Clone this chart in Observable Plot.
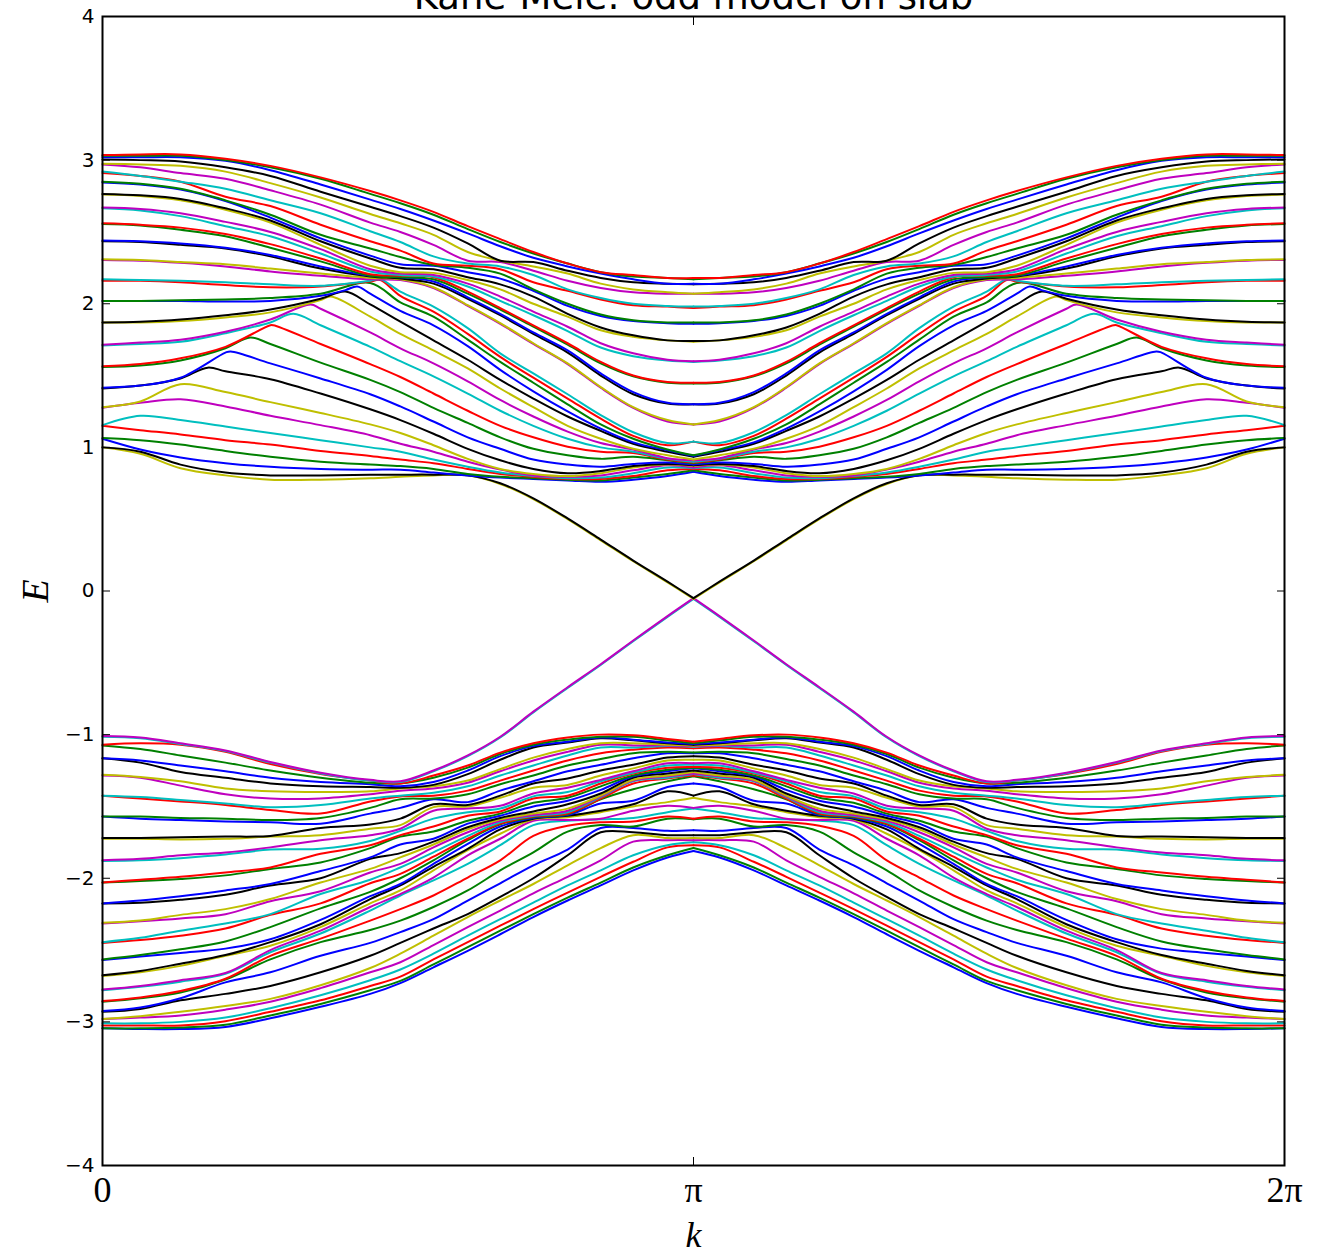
<!DOCTYPE html>
<html>
<head>
<meta charset="utf-8">
<style>html,body{margin:0;padding:0;background:#fff;overflow:hidden}svg{display:block}</style>
<script src="https://cdn.jsdelivr.net/npm/d3@7"></script>
<script src="https://cdn.jsdelivr.net/npm/@observablehq/plot@0.6"></script>
</head>
<body>
<div id="chart"></div>
<script>
const titleText = "Kane-Mele: odd model on slab";
const cycleColors = ["#0000ff","#008000","#ff0000","#00bfbf","#bf00bf","#bfbf00","#000000"];
const yTicks = [-4,-3,-2,-1,0,1,2,3,4];
const xTicks = [0, Math.PI, 2*Math.PI];
const xTickLabels = ["0","π","2π"];
// sampled k, in units of π, from 0 to π (the spectrum is mirrored about π)
const kOverPi = [0,.064,.132,.208,.284,.369,.453,.504,.56,.618,.673,.729,.787,.843,.898,.956,1];
// bands 0..39, ascending in energy
const lowerBands = [
[-3.045,-3.05,-3.05,-3.035,-2.975,-2.895,-2.805,-2.73,-2.62,-2.505,-2.39,-2.27,-2.155,-2.05,-1.945,-1.855,-1.81],
[-3.045,-3.045,-3.04,-3.02,-2.955,-2.875,-2.78,-2.715,-2.60,-2.48,-2.365,-2.25,-2.135,-2.03,-1.925,-1.84,-1.79],
[-3.025,-3.025,-3.025,-2.995,-2.93,-2.85,-2.75,-2.685,-2.565,-2.445,-2.33,-2.215,-2.10,-1.99,-1.885,-1.785,-1.77],
[-3.01,-3.01,-3.0,-2.97,-2.905,-2.815,-2.71,-2.635,-2.525,-2.40,-2.285,-2.17,-2.05,-1.945,-1.84,-1.77,-1.75],
[-2.98,-2.97,-2.955,-2.915,-2.86,-2.765,-2.655,-2.585,-2.465,-2.34,-2.225,-2.105,-1.99,-1.875,-1.745,-1.735,-1.735],
[-2.98,-2.96,-2.93,-2.89,-2.84,-2.745,-2.625,-2.525,-2.40,-2.27,-2.155,-2.04,-1.91,-1.79,-1.70,-1.72,-1.72],
[-2.93,-2.91,-2.85,-2.805,-2.75,-2.655,-2.54,-2.45,-2.35,-2.25,-2.13,-2.0,-1.84,-1.68,-1.68,-1.70,-1.70],
[-2.925,-2.90,-2.835,-2.725,-2.655,-2.54,-2.45,-2.375,-2.285,-2.155,-2.035,-1.91,-1.80,-1.65,-1.65,-1.67,-1.665],
[-2.86,-2.835,-2.795,-2.705,-2.565,-2.445,-2.36,-2.295,-2.20,-2.085,-1.945,-1.82,-1.675,-1.63,-1.64,-1.585,-1.59],
[-2.855,-2.83,-2.785,-2.70,-2.54,-2.42,-2.295,-2.215,-2.12,-1.995,-1.875,-1.705,-1.635,-1.61,-1.605,-1.57,-1.585],
[-2.78,-2.755,-2.72,-2.665,-2.515,-2.385,-2.225,-2.12,-2.015,-1.90,-1.77,-1.63,-1.60,-1.59,-1.58,-1.54,-1.515],
[-2.775,-2.75,-2.71,-2.66,-2.50,-2.365,-2.20,-2.11,-1.995,-1.84,-1.725,-1.60,-1.595,-1.585,-1.53,-1.495,-1.51],
[-2.68,-2.655,-2.61,-2.54,-2.47,-2.34,-2.175,-2.085,-1.945,-1.805,-1.69,-1.59,-1.575,-1.54,-1.50,-1.47,-1.44],
[-2.675,-2.645,-2.595,-2.535,-2.445,-2.32,-2.145,-2.05,-1.92,-1.795,-1.66,-1.585,-1.565,-1.53,-1.485,-1.395,-1.425],
[-2.57,-2.545,-2.52,-2.49,-2.425,-2.29,-2.125,-2.04,-1.90,-1.76,-1.64,-1.58,-1.56,-1.48,-1.46,-1.365,-1.34],
[-2.565,-2.535,-2.495,-2.44,-2.34,-2.21,-2.095,-2.0,-1.875,-1.735,-1.625,-1.575,-1.555,-1.45,-1.38,-1.325,-1.29],
[-2.45,-2.43,-2.40,-2.35,-2.255,-2.175,-2.035,-1.97,-1.85,-1.725,-1.62,-1.57,-1.55,-1.445,-1.34,-1.305,-1.285],
[-2.445,-2.415,-2.365,-2.315,-2.25,-2.11,-2.01,-1.925,-1.82,-1.705,-1.61,-1.565,-1.54,-1.435,-1.325,-1.30,-1.275],
[-2.315,-2.30,-2.28,-2.25,-2.16,-2.09,-1.96,-1.90,-1.785,-1.68,-1.60,-1.56,-1.53,-1.43,-1.32,-1.29,-1.27],
[-2.31,-2.295,-2.255,-2.215,-2.145,-2.03,-1.935,-1.855,-1.765,-1.66,-1.59,-1.55,-1.515,-1.425,-1.315,-1.285,-1.26],
[-2.175,-2.17,-2.15,-2.115,-2.05,-2.0,-1.865,-1.825,-1.745,-1.645,-1.58,-1.535,-1.485,-1.41,-1.30,-1.27,-1.25],
[-2.175,-2.155,-2.125,-2.085,-2.04,-1.95,-1.855,-1.765,-1.725,-1.62,-1.565,-1.50,-1.46,-1.385,-1.29,-1.255,-1.235],
[-2.03,-2.02,-2.005,-1.98,-1.935,-1.89,-1.79,-1.71,-1.675,-1.60,-1.55,-1.475,-1.44,-1.36,-1.285,-1.245,-1.23],
[-2.03,-2.01,-1.99,-1.96,-1.925,-1.83,-1.77,-1.70,-1.64,-1.565,-1.535,-1.445,-1.425,-1.34,-1.27,-1.23,-1.225],
[-1.88,-1.875,-1.86,-1.835,-1.80,-1.795,-1.74,-1.67,-1.585,-1.54,-1.515,-1.43,-1.40,-1.325,-1.265,-1.215,-1.21],
[-1.875,-1.865,-1.84,-1.82,-1.785,-1.735,-1.70,-1.655,-1.53,-1.515,-1.495,-1.41,-1.37,-1.315,-1.255,-1.20,-1.20],
[-1.725,-1.725,-1.73,-1.725,-1.71,-1.70,-1.655,-1.63,-1.505,-1.50,-1.44,-1.37,-1.35,-1.285,-1.235,-1.18,-1.175],
[-1.72,-1.72,-1.715,-1.71,-1.705,-1.65,-1.625,-1.585,-1.485,-1.49,-1.425,-1.34,-1.305,-1.25,-1.21,-1.16,-1.15],
[-1.57,-1.585,-1.595,-1.605,-1.61,-1.62,-1.55,-1.51,-1.45,-1.47,-1.39,-1.325,-1.255,-1.21,-1.165,-1.13,-1.13],
[-1.57,-1.57,-1.58,-1.585,-1.595,-1.58,-1.51,-1.45,-1.445,-1.415,-1.345,-1.285,-1.215,-1.17,-1.13,-1.12,-1.125],
[-1.425,-1.445,-1.465,-1.49,-1.525,-1.55,-1.465,-1.43,-1.425,-1.39,-1.32,-1.25,-1.18,-1.13,-1.105,-1.09,-1.095],
[-1.425,-1.435,-1.455,-1.48,-1.505,-1.49,-1.445,-1.425,-1.405,-1.36,-1.285,-1.215,-1.145,-1.09,-1.09,-1.08,-1.085],
[-1.285,-1.30,-1.355,-1.415,-1.445,-1.445,-1.415,-1.39,-1.375,-1.335,-1.255,-1.18,-1.12,-1.07,-1.075,-1.075,-1.08],
[-1.28,-1.295,-1.325,-1.375,-1.395,-1.40,-1.395,-1.375,-1.36,-1.32,-1.24,-1.16,-1.10,-1.06,-1.06,-1.07,-1.075],
[-1.165,-1.195,-1.26,-1.30,-1.34,-1.36,-1.365,-1.37,-1.35,-1.275,-1.175,-1.09,-1.055,-1.025,-1.04,-1.06,-1.07],
[-1.165,-1.18,-1.215,-1.255,-1.30,-1.33,-1.345,-1.36,-1.33,-1.25,-1.15,-1.08,-1.05,-1.02,-1.035,-1.055,-1.065],
[-1.075,-1.10,-1.145,-1.195,-1.25,-1.30,-1.335,-1.34,-1.30,-1.23,-1.135,-1.07,-1.035,-1.015,-1.015,-1.04,-1.06],
[-1.07,-1.06,-1.07,-1.12,-1.205,-1.275,-1.32,-1.34,-1.285,-1.215,-1.125,-1.06,-1.02,-1.0,-1.005,-1.03,-1.05],
[-1.015,-1.025,-1.065,-1.115,-1.195,-1.27,-1.32,-1.33,-1.255,-1.15,-1.02,-.845,-.675,-.515,-.35,-.18,-.055],
[-1.01,-1.02,-1.06,-1.11,-1.19,-1.265,-1.315,-1.325,-1.25,-1.145,-1.015,-.84,-.67,-.51,-.345,-.175,-.05]
];
// bands 40..79, ascending in energy
const upperBands = [
[1.0,.955,.855,.805,.775,.775,.785,.795,.805,.805,.745,.64,.50,.353,.207,.06,-.055],
[1.0,.97,.88,.825,.805,.805,.81,.81,.81,.805,.75,.645,.505,.358,.212,.065,-.05],
[1.06,.985,.93,.89,.865,.85,.845,.845,.825,.805,.79,.78,.77,.76,.775,.80,.83],
[1.065,1.05,1.02,.975,.935,.90,.88,.87,.85,.815,.795,.785,.775,.77,.79,.815,.84],
[1.15,1.12,1.09,1.05,1.02,.975,.94,.915,.89,.85,.815,.795,.78,.78,.80,.84,.85],
[1.155,1.22,1.19,1.145,1.10,1.05,1.0,.97,.915,.865,.825,.80,.785,.79,.82,.86,.855],
[1.275,1.31,1.335,1.285,1.22,1.155,1.085,1.025,.97,.90,.845,.805,.795,.805,.84,.875,.86],
[1.28,1.32,1.44,1.385,1.315,1.24,1.16,1.10,1.015,.92,.85,.815,.80,.82,.86,.88,.87],
[1.41,1.43,1.48,1.53,1.475,1.375,1.265,1.19,1.095,.99,.91,.85,.82,.835,.87,.885,.875],
[1.415,1.43,1.485,1.66,1.585,1.48,1.37,1.285,1.18,1.07,.99,.915,.88,.865,.885,.895,.88],
[1.56,1.57,1.605,1.69,1.72,1.59,1.47,1.385,1.275,1.17,1.07,.99,.945,.92,.935,.91,.89],
[1.565,1.58,1.62,1.70,1.85,1.72,1.58,1.49,1.375,1.255,1.15,1.07,1.005,.97,.96,.915,.895],
[1.71,1.72,1.735,1.795,1.87,1.85,1.70,1.60,1.495,1.375,1.255,1.15,1.06,1.0,.97,.92,.90],
[1.715,1.73,1.75,1.805,1.89,1.965,1.80,1.69,1.585,1.46,1.33,1.215,1.11,1.03,.985,.925,.91],
[1.87,1.87,1.88,1.905,1.94,2.025,1.91,1.79,1.675,1.55,1.41,1.28,1.15,1.06,.99,.945,.915],
[1.87,1.875,1.89,1.92,1.96,2.035,1.995,1.875,1.745,1.61,1.47,1.34,1.215,1.115,1.025,.97,.935],
[2.02,2.02,2.02,2.015,2.02,2.055,2.07,1.95,1.85,1.705,1.54,1.39,1.25,1.13,1.035,.98,.94],
[2.02,2.02,2.025,2.03,2.04,2.07,2.145,2.01,1.91,1.75,1.595,1.45,1.30,1.16,1.06,.985,.945],
[2.16,2.16,2.15,2.13,2.115,2.12,2.155,2.055,1.945,1.79,1.63,1.485,1.34,1.20,1.08,1.015,1.04],
[2.17,2.165,2.16,2.15,2.135,2.125,2.16,2.085,1.98,1.83,1.655,1.515,1.37,1.225,1.105,1.03,1.04],
[2.305,2.30,2.285,2.26,2.225,2.195,2.17,2.165,2.11,1.985,1.86,1.72,1.58,1.415,1.275,1.18,1.16],
[2.31,2.305,2.29,2.275,2.245,2.21,2.18,2.17,2.115,1.99,1.865,1.725,1.585,1.42,1.28,1.19,1.16],
[2.435,2.43,2.41,2.385,2.33,2.245,2.19,2.175,2.14,2.035,1.92,1.79,1.66,1.50,1.37,1.305,1.30],
[2.44,2.435,2.42,2.39,2.34,2.26,2.195,2.185,2.155,2.045,1.93,1.80,1.675,1.515,1.385,1.31,1.30],
[2.555,2.545,2.515,2.47,2.39,2.295,2.195,2.185,2.17,2.07,1.96,1.84,1.715,1.585,1.495,1.45,1.445],
[2.56,2.55,2.53,2.485,2.415,2.315,2.205,2.195,2.185,2.085,1.97,1.85,1.725,1.595,1.50,1.455,1.45],
[2.665,2.65,2.61,2.54,2.47,2.35,2.225,2.20,2.19,2.12,2.02,1.92,1.81,1.695,1.635,1.605,1.595],
[2.67,2.66,2.63,2.57,2.50,2.38,2.24,2.21,2.20,2.14,2.05,1.945,1.84,1.725,1.655,1.61,1.60],
[2.76,2.75,2.72,2.655,2.565,2.41,2.265,2.22,2.215,2.165,2.10,2.0,1.91,1.815,1.77,1.745,1.735],
[2.765,2.755,2.73,2.665,2.58,2.435,2.315,2.25,2.24,2.185,2.135,2.05,1.93,1.835,1.78,1.745,1.74],
[2.845,2.83,2.795,2.715,2.60,2.455,2.335,2.275,2.265,2.22,2.175,2.09,1.985,1.915,1.88,1.865,1.86],
[2.85,2.835,2.80,2.72,2.62,2.48,2.385,2.325,2.27,2.25,2.21,2.10,2.0,1.925,1.885,1.87,1.87],
[2.91,2.89,2.85,2.745,2.68,2.55,2.435,2.37,2.28,2.265,2.24,2.15,2.09,2.03,1.99,1.98,1.97],
[2.92,2.89,2.85,2.80,2.72,2.63,2.505,2.43,2.33,2.28,2.26,2.20,2.10,2.04,2.0,1.985,1.98],
[2.97,2.95,2.91,2.87,2.79,2.69,2.565,2.50,2.41,2.30,2.29,2.23,2.16,2.11,2.08,2.07,2.07],
[2.975,2.97,2.96,2.92,2.84,2.74,2.625,2.56,2.48,2.36,2.30,2.26,2.21,2.14,2.10,2.08,2.07],
[3.005,3.0,2.99,2.95,2.89,2.78,2.675,2.61,2.53,2.42,2.30,2.29,2.23,2.18,2.15,2.14,2.135],
[3.02,3.02,3.02,2.995,2.93,2.83,2.725,2.66,2.58,2.49,2.40,2.32,2.26,2.21,2.17,2.14,2.14],
[3.03,3.03,3.03,3.0,2.95,2.87,2.765,2.70,2.62,2.52,2.43,2.35,2.28,2.22,2.19,2.18,2.17],
[3.035,3.04,3.04,3.01,2.96,2.88,2.785,2.72,2.64,2.54,2.45,2.36,2.28,2.22,2.20,2.18,2.18]
];
// the peak of each band where the conduction bands turn over
const peakBand = [48,49,50,51,52,53,54,55,56,56,58,59];
const peakKOverPi = [.178,.217,.25,.289,.323,.352,.386,.411,.411,.431,.47,.47];
const peakEnergy = [1.555,1.668,1.765,1.85,1.93,1.995,2.05,2.085,2.095,2.12,2.165,2.17];

const rows = [];
function addPoint(band, kp, E) {
  rows.push({band, key: band * 2, k: kp * Math.PI, E});
  rows.push({band, key: band * 2 + 1, k: (2 - kp) * Math.PI, E});
}
lowerBands.concat(upperBands).forEach((energies, band) => {
  energies.forEach((E, i) => addPoint(band, kOverPi[i], E));
});
peakBand.forEach((band, i) => addPoint(band, peakKOverPi[i], peakEnergy[i]));
rows.sort((a, b) => a.key - b.key || a.k - b.k);

const serif = "'Liberation Serif','DejaVu Serif',serif";
const sans = "'DejaVu Sans',sans-serif";

const chart = Plot.plot({
  width: 1331, height: 1249,
  marginLeft: 102, marginRight: 47, marginTop: 16, marginBottom: 84,
  style: {background: "#fff", overflow: "visible"},
  x: {domain: [0, 2 * Math.PI], label: null},
  y: {domain: [-4, 4], label: null},
  marks: [
    Plot.line(rows, {
      x: "k", y: "E", z: "key",
      stroke: d => cycleColors[d.band % 7],
      strokeWidth: 2, curve: "catmull-rom", sort: null
    }),
    Plot.axisY(yTicks, {anchor: "left", tickSize: -8, tickPadding: 16, stroke: "#000", fontSize: 20, fontFamily: sans, fill: "#000", strokeWidth: 1, strokeOpacity: 1, label: null, tickFormat: d => d < 0 ? "\u2212" + (-d) : String(d)}),
    Plot.axisY(yTicks, {anchor: "right", tickSize: -8, text: null, stroke: "#000", strokeWidth: 1, strokeOpacity: 1, label: null}),
    Plot.axisX(xTicks, {anchor: "bottom", tickSize: -8, text: null, stroke: "#000", strokeWidth: 1, strokeOpacity: 1, label: null}),
    Plot.axisX(xTicks, {anchor: "top", tickSize: -8, text: null, stroke: "#000", strokeWidth: 1, strokeOpacity: 1, label: null}),
    Plot.frame({stroke: "#000", strokeWidth: 2}),
    Plot.text(xTicks.map((k, i) => ({k, label: xTickLabels[i]})), {
      x: "k", text: "label", frameAnchor: "bottom", dy: 36, lineAnchor: "bottom",
      fontSize: 36, fontFamily: serif, fill: "#000"
    }),
    Plot.text(["k"], {frameAnchor: "bottom", dy: 81, lineAnchor: "bottom", fontSize: 36, fontFamily: serif, fontStyle: "italic", fill: "#000"}),
    Plot.text(["E"], {frameAnchor: "left", textAnchor: "middle", dx: -67, rotate: -90, fontSize: 38, fontFamily: serif, fontStyle: "italic", fill: "#000"}),
    Plot.text([titleText], {frameAnchor: "top", dy: -8, lineAnchor: "bottom", fontSize: 37, fontFamily: sans, fill: "#000"})
  ]
});
document.getElementById("chart").appendChild(chart);
</script>
</body>
</html>
